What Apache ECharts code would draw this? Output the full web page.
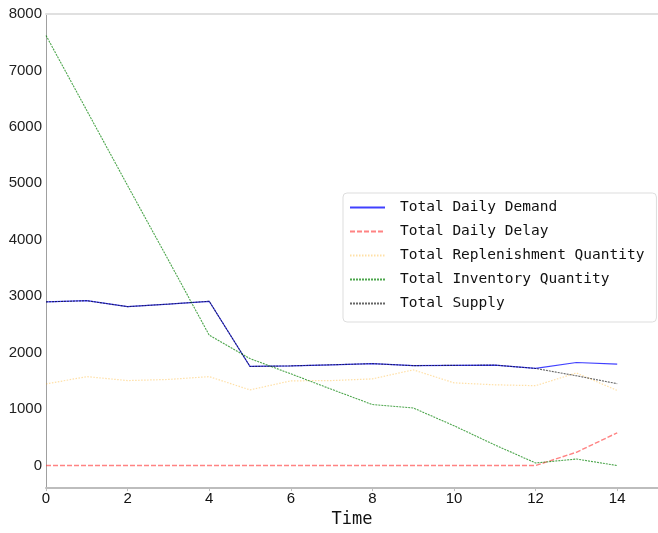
<!DOCTYPE html>
<html>
<head>
<meta charset="utf-8">
<script src="https://cdn.jsdelivr.net/npm/echarts@6/dist/echarts.min.js"></script>
<style>
html,body{margin:0;padding:0;background:#fff;}
#chart{width:658px;height:533px;}
</style>
</head>
<body>
<div id="chart"></div>
<script>
const time = [0,1,2,3,4,5,6,7,8,9,10,11,12,13,14];
const demand = [2900,2920,2815,2860,2910,1755,1765,1785,1805,1770,1775,1780,1720,1825,1795];
const delay = [0,0,0,0,0,0,0,0,0,0,0,0,0,235,580];
const replenishment = [1445,1575,1505,1525,1575,1340,1500,1505,1535,1695,1465,1430,1415,1640,1330];
const inventory = [7620,6290,4960,3640,2310,1895,1625,1350,1080,1020,705,365,45,115,0];
const supply = [2900,2920,2815,2860,2910,1755,1765,1785,1805,1770,1775,1780,1720,1590,1450];
const seriesNames = ['Total Daily Demand','Total Daily Delay','Total Replenishment Quantity','Total Inventory Quantity','Total Supply'];
const xTicks = [0,2,4,6,8,10,12,14];
const yTicks = [0,1000,2000,3000,4000,5000,6000,7000,8000];

function pairs(vals){ return time.map((t,i)=>[t, vals[i]]); }

const chart = echarts.init(document.getElementById('chart'), null, {renderer:'canvas'});
const mk = (name, vals, color, opacity, type, width) => ({
  name, type:'line', data: pairs(vals), symbol:'none', showSymbol:false, animation:false,
  lineStyle:{color, opacity, type, width}, itemStyle:{color}
});
chart.setOption({
  animation:false,
  grid:{left:46, top:14, right:-4, bottom:39},
  xAxis:[{
    type:'value', min:0, max:15,
    name:'Time', nameLocation:'middle', nameGap:16,
    nameTextStyle:{fontFamily:'DejaVu Sans Mono', fontSize:17, color:'#111'},
    axisLine:{show:true, onZero:false, lineStyle:{color:'#bdbdbd', width:2}},
    axisTick:{show:true, length:3, lineStyle:{color:'#bdbdbd'}, customValues:xTicks},
    axisLabel:{customValues:xTicks, fontFamily:'Liberation Sans', fontSize:15, color:'#111', margin:3},
    splitLine:{show:false}
  },{
    type:'value', min:0, max:15, position:'top',
    axisLine:{show:true, onZero:false, lineStyle:{color:'#e0e0e0', width:2}},
    axisTick:{show:false}, axisLabel:{show:false}, splitLine:{show:false}
  }],
  yAxis:{
    type:'value', min:-400, max:8000,
    axisLine:{show:true, onZero:false, lineStyle:{color:'#a0a0a0', width:1}},
    axisTick:{show:false},
    axisLabel:{customValues:yTicks, formatter:(v)=>String(v), fontFamily:'Liberation Sans', fontSize:15, color:'#222', margin:4},
    splitLine:{show:false}
  },
  legend:{
    orient:'vertical', left:343, top:193,
    data: seriesNames,
    itemWidth:35, itemHeight:14, itemGap:9,
    itemStyle:{opacity:0},
    backgroundColor:'rgba(255,255,255,0.85)', borderColor:'#dddddd', borderWidth:1, borderRadius:4,
    padding:[7,12,11,6],
    textStyle:{fontFamily:'DejaVu Sans Mono', fontSize:14.5, color:'#111', padding:[0,0,0,10]}
  },
  series:[
    mk(seriesNames[0], demand, '#0000ff', 0.75, 'solid', 1.2),
    mk(seriesNames[1], delay, '#ff3030', 0.6, [5,2], 1.4),
    mk(seriesNames[2], replenishment, '#ffa500', 0.35, [1.5,1.5], 1.2),
    mk(seriesNames[3], inventory, '#008000', 0.7, [2,1], 1.1),
    mk(seriesNames[4], supply, '#000000', 0.6, [2,1], 1.1)
  ]
});
</script>
</body>
</html>
